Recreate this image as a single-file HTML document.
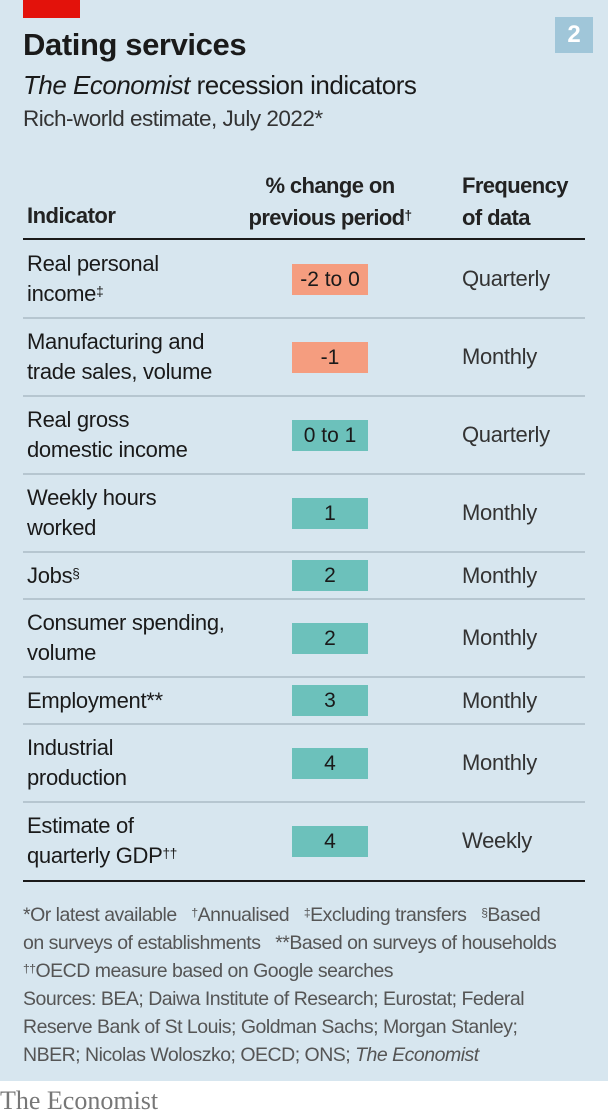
<!DOCTYPE html>
<html><head><meta charset="utf-8">
<style>
*{margin:0;padding:0;box-sizing:border-box}
body{width:608px;height:1118px;background:#fff;font-family:"Liberation Sans",sans-serif;color:#1a1a1a;position:relative;overflow:hidden}
#panel{position:absolute;left:0;top:0;width:608px;height:1081px;background:#d7e6ef}
.a{position:absolute;white-space:nowrap}
.ind{left:27px;font-size:22px;line-height:30px;letter-spacing:-0.3px}
.freq{left:462px;font-size:22px;letter-spacing:-0.3px;color:#333}
.box{left:292px;width:76px;height:31px;font-size:21px;line-height:31px;text-align:center}
.sep{left:23px;width:562px;height:2px;background:#b6c6d0}
.note{left:23px;font-size:19.5px;color:#555;letter-spacing:-0.5px;line-height:28px}
sup{font-size:62%;vertical-align:top;position:relative;top:-2px}
</style></head><body>
<div id="panel"></div>
<div class="a" style="left:23px;top:0;width:57px;height:18px;background:#e3120b"></div>
<div class="a" style="left:555px;top:17px;width:38px;height:36px;background:#a0c6d9;color:#fff;font-weight:bold;font-size:24px;line-height:36px;text-align:center">2</div>
<div class="a" style="left:23px;top:27px;font-size:31px;font-weight:bold;letter-spacing:-0.4px">Dating services</div>
<div class="a" style="left:23px;top:70px;font-size:26px;letter-spacing:-0.5px"><i>The Economist</i> recession indicators</div>
<div class="a" style="left:23px;top:106px;font-size:22.5px;letter-spacing:-0.5px;color:#333">Rich-world estimate, July 2022*</div>
<div class="a" style="left:27px;top:203px;font-size:22px;font-weight:bold;letter-spacing:-0.5px;color:#222">Indicator</div>
<div class="a" style="left:232px;top:170px;width:196px;text-align:center;font-size:22px;font-weight:bold;letter-spacing:-0.6px;line-height:32px;color:#222">% change on<br>previous period<sup>†</sup></div>
<div class="a" style="left:462px;top:170px;font-size:22px;font-weight:bold;letter-spacing:-0.6px;line-height:32px;color:#222">Frequency<br>of data</div>
<div class="a" style="left:23px;top:238px;width:562px;height:2px;background:#1a1a1a"></div>
<div id="rows"></div>
<div class="a" style="left:23px;top:880px;width:562px;height:2px;background:#1a1a1a"></div>
<div class="a note" style="top:901px">*Or latest available &nbsp;&nbsp;<sup>†</sup>Annualised &nbsp;&nbsp;<sup>‡</sup>Excluding transfers &nbsp;&nbsp;<sup>§</sup>Based<br>on surveys of establishments &nbsp;&nbsp;**Based on surveys of households<br><sup>††</sup>OECD measure based on Google searches</div>
<div class="a note" style="top:985px">Sources: BEA; Daiwa Institute of Research; Eurostat; Federal<br>Reserve Bank of St Louis; Goldman Sachs; Morgan Stanley;<br>NBER; Nicolas Woloszko; OECD; ONS; <i>The Economist</i></div>
<div class="a" style="left:0;top:1086px;font-family:'Liberation Serif',serif;font-size:26px;color:#777">The Economist</div>
<script>
const indicators=["Real personal<br>income<sup>‡</sup>","Manufacturing and<br>trade sales, volume","Real gross<br>domestic income","Weekly hours<br>worked","Jobs<sup>§</sup>","Consumer spending,<br>volume","Employment**","Industrial<br>production","Estimate of<br>quarterly GDP<sup>††</sup>"];
const changeLabels=["-2 to 0","-1","0 to 1","1","2","2","3","4","4"];
const changeValues=[-1,-1,0.5,1,2,2,3,4,4];
const frequencies=["Quarterly","Monthly","Quarterly","Monthly","Monthly","Monthly","Monthly","Monthly","Weekly"];
const rowLines=[2,2,2,2,1,2,1,2,2];
const root=document.getElementById('rows');
let y=240;
for(let i=0;i<indicators.length;i++){
  const h=rowLines[i]===2?78:47;
  const c=y+h/2;
  const t=document.createElement('div');
  t.className='a ind';
  
  
  t.innerHTML=indicators[i];
  t.style.top=(c-rowLines[i]*15)+'px';
  root.appendChild(t);
  const b=document.createElement('div');
  b.className='a box';
  
  
  b.textContent=changeLabels[i];
  b.style.background=changeValues[i]<0?'#f59d7f':'#6cc1bb';
  b.style.top=(c-15.5)+'px';
  root.appendChild(b);
  const f=document.createElement('div');
  f.className='a freq';
  
  
  f.textContent=frequencies[i];
  f.style.top=(c-13)+'px';
  root.appendChild(f);
  y+=h;
  if(i<indicators.length-1){
    const s=document.createElement('div');
    s.className='a sep';
    
    
    s.style.top=(y-1)+'px';
    root.appendChild(s);
  }
}
</script>
</body></html>
